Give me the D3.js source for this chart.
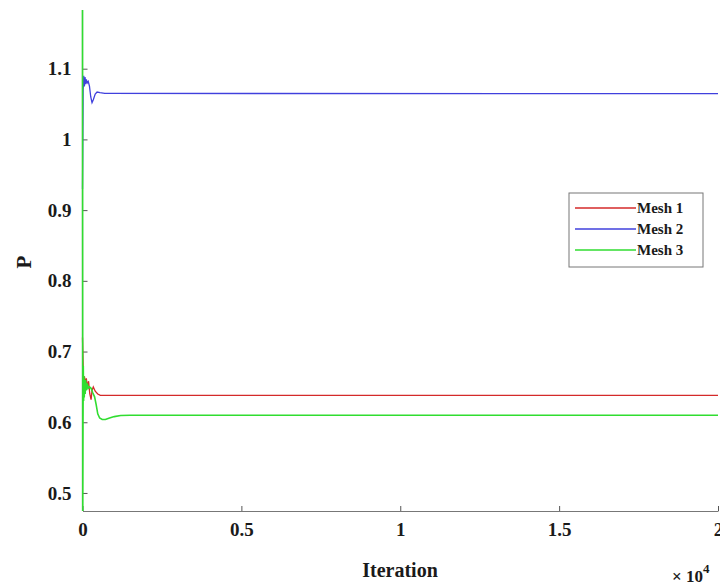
<!DOCTYPE html>
<html><head><meta charset="utf-8">
<script src="https://cdn.jsdelivr.net/npm/d3@7"></script>
<style>body{margin:0;background:#fff}svg{display:block}</style>
</head><body>
<svg id="c" width="720" height="586"></svg>
<script>
const seriesNames = ["Mesh 1","Mesh 2","Mesh 3"];
const seriesColors = ["#d42a2a","#4040dd","#30dd30"];
const mesh1 = [[0,0.72],[15,0.69],[30,0.66],[60,0.665],[90,0.655],[120,0.662],[150,0.65],[190,0.658],[230,0.64],[270,0.632],[300,0.645],[340,0.65],[400,0.644],[480,0.64],[560,0.638],[20000,0.638]];
const mesh2 = [[0,0.93],[20,1.07],[40,1.09],[60,1.075],[80,1.088],[100,1.078],[120,1.085],[150,1.08],[180,1.082],[220,1.075],[260,1.06],[300,1.052],[340,1.056],[400,1.064],[460,1.067],[550,1.066],[700,1.065],[20000,1.0646]];
const mesh3 = [[0,1.183],[8,0.47],[16,0.6],[25,0.68],[35,0.63],[45,0.665],[55,0.635],[70,0.66],[85,0.64],[100,0.66],[120,0.645],[150,0.655],[180,0.648],[220,0.65],[270,0.648],[320,0.642],[380,0.636],[430,0.625],[480,0.612],[540,0.606],[620,0.604],[720,0.604],[850,0.606],[1000,0.608],[1200,0.6095],[1500,0.61],[20000,0.61]];
const xTicks = [0,5000,10000,15000,20000];
const xTickLabels = ["0","0.5","1","1.5","2"];
const yTicks = [0.5,0.6,0.7,0.8,0.9,1,1.1];
const yTickLabels = ["0.5","0.6","0.7","0.8","0.9","1","1.1"];
const xDomain = [0,20000];
const yDomain = [0.4745,1.183];

const svg = d3.select("#c");
const L=82.5, R=718, T=10, B=511;
const x = d3.scaleLinear().domain(xDomain).range([L,R]);
const y = d3.scaleLinear().domain(yDomain).range([B,T]);
const font = "'Liberation Serif','Times New Roman',serif";

svg.append("defs").append("clipPath").attr("id","clip")
  .append("rect").attr("x",L-2).attr("y",T).attr("width",720-L+2).attr("height",B-T);

// axes
const xAxis = d3.axisBottom(x).tickValues(xTicks).tickFormat((d,i)=>xTickLabels[i]).tickSizeInner(-5).tickSizeOuter(0).tickPadding(12);
const yAxis = d3.axisLeft(y).tickValues(yTicks).tickFormat((d,i)=>yTickLabels[i]).tickSizeInner(-5).tickSizeOuter(0).tickPadding(11);
const gx = svg.append("g").attr("transform",`translate(0,${B})`).call(xAxis);
const gy = svg.append("g").attr("transform",`translate(${L},0)`).call(yAxis);
[gx,gy].forEach(a=>{
  a.select(".domain").attr("stroke","#777").attr("stroke-width",1.2);
  a.selectAll(".tick line").attr("stroke","#555");
  a.selectAll("text").attr("font-family",font).attr("font-weight","bold").attr("font-size",19).attr("fill","#1a1a1a");
});
gy.select(".domain").attr("d",`M0,${B}V${T}`);

const line = d3.line().x(d=>x(d[0])).y(d=>y(d[1]));
const g = svg.append("g").attr("clip-path","url(#clip)");
[mesh1,mesh2,mesh3].forEach((s,i)=>{
  g.append("path").datum(s).attr("d",line).attr("fill","none")
   .attr("stroke",seriesColors[i]).attr("stroke-width",i===2?1.6:1.3);
});

svg.append("text").attr("x",400).attr("y",577).attr("text-anchor","middle")
  .attr("font-family",font).attr("font-weight","bold").attr("font-size",20).attr("fill","#1a1a1a").text("Iteration");
const ex = svg.append("text").attr("x",672).attr("y",582).attr("font-family",font).attr("font-weight","bold").attr("font-size",17).attr("fill","#1a1a1a");
ex.append("tspan").text("\u00d7 10");
ex.append("tspan").attr("dy",-9).attr("font-size",13).text("4");
svg.append("text").attr("transform","translate(31,262) rotate(-90)").attr("text-anchor","middle")
  .attr("font-family",font).attr("font-weight","bold").attr("font-size",21).attr("fill","#1a1a1a").text("P");

// legend
const lg = svg.append("g");
lg.append("rect").attr("x",569).attr("y",193).attr("width",134).attr("height",74)
  .attr("fill","#fff").attr("stroke","#777").attr("stroke-width",1);
seriesNames.forEach((n,i)=>{
  const yy = 208 + i*21;
  lg.append("line").attr("x1",575).attr("x2",636).attr("y1",yy).attr("y2",yy)
    .attr("stroke",seriesColors[i]).attr("stroke-width",1.3);
  lg.append("text").attr("x",637).attr("y",yy+5).attr("font-family",font).attr("font-weight","bold")
    .attr("font-size",15).attr("fill","#1a1a1a").text(n);
});
</script>
</body></html>
